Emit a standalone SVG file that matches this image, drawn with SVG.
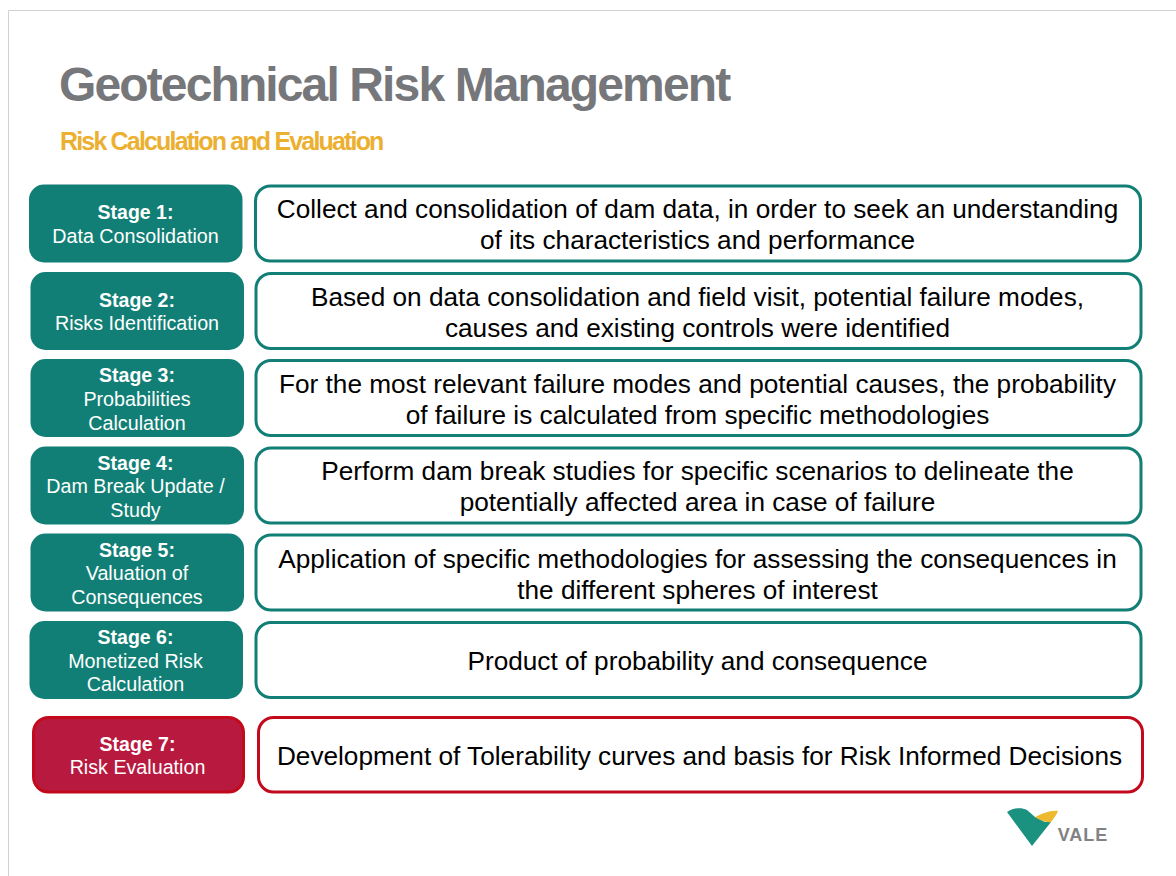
<svg xmlns="http://www.w3.org/2000/svg" width="1176" height="876" viewBox="0 0 1176 876">
<style>
text{font-family:"Liberation Sans",Arial,sans-serif;text-anchor:middle}
.st{fill:#127f76}
.red{fill:#b8193f;stroke:#c20a1c;stroke-width:3}
.bt{fill:#fff;stroke:#127f76;stroke-width:3}
.br{fill:#fff;stroke:#c20a1c;stroke-width:3}
.h{font-size:19.5px;font-weight:bold;fill:#fff}
.l{font-size:19.7px;fill:#fff}
.d{font-size:26.2px;fill:#000}
</style>
<rect width="1176" height="876" fill="#fff"/>
<path d="M1176 10.500H8.500V876" fill="none" stroke="#d2d2d2" stroke-width="1"/>
<text id="title" x="59" y="101" style="text-anchor:start;font-size:48px;font-weight:bold;fill:#76777a;letter-spacing:-1.880px">Geotechnical Risk Management</text>
<text id="subtitle" x="60" y="150" style="text-anchor:start;font-size:25px;font-weight:bold;fill:#ecb031;letter-spacing:-1.830px">Risk Calculation and Evaluation</text>
<g id="connectors"/>
<g id="stage1"><rect class="st" x="29" y="184.500" width="213.500" height="78" rx="15"/><text class="h" x="135.500" y="219">Stage 1:</text><text class="l" x="135.500" y="242.500">Data Consolidation</text></g>
<g id="desc1"><rect class="bt" x="255.500" y="186" width="885" height="75" rx="15"/><text class="d" x="697.500" y="218">Collect and consolidation of dam data, in order to seek an understanding</text><text class="d" x="697.500" y="249">of its characteristics and performance</text></g>
<g id="stage2"><rect class="st" x="30.500" y="272" width="213.500" height="78" rx="15"/><text class="h" x="137" y="307">Stage 2:</text><text class="l" x="137" y="330">Risks Identification</text></g>
<g id="desc2"><rect class="bt" x="256" y="273.500" width="885" height="75" rx="15"/><text class="d" x="697.500" y="306">Based on data consolidation and field visit, potential failure modes,</text><text class="d" x="697.500" y="337">causes and existing controls were identified</text></g>
<g id="stage3"><rect class="st" x="30.500" y="359" width="213.500" height="78" rx="15"/><text class="h" x="137" y="382">Stage 3:</text><text class="l" x="137" y="406">Probabilities</text><text class="l" x="137" y="429.500">Calculation</text></g>
<g id="desc3"><rect class="bt" x="256" y="360.500" width="885" height="75" rx="15"/><text class="d" x="697.500" y="392.500">For the most relevant failure modes and potential causes, the probability</text><text class="d" x="697.500" y="423.500">of failure is calculated from specific methodologies</text></g>
<g id="stage4"><rect class="st" x="30.500" y="446.500" width="213.500" height="78" rx="15"/><text class="h" x="135.500" y="469.500">Stage 4:</text><text class="l" x="135.500" y="493">Dam Break Update /</text><text class="l" x="135.500" y="517">Study</text></g>
<g id="desc4"><rect class="bt" x="256" y="448" width="885" height="75" rx="15"/><text class="d" x="697.500" y="480">Perform dam break studies for specific scenarios to delineate the</text><text class="d" x="697.500" y="511">potentially affected area in case of failure</text></g>
<g id="stage5"><rect class="st" x="30.500" y="533.500" width="213.500" height="78" rx="15"/><text class="h" x="137" y="556.500">Stage 5:</text><text class="l" x="137" y="580">Valuation of</text><text class="l" x="137" y="604">Consequences</text></g>
<g id="desc5"><rect class="bt" x="256" y="535" width="885" height="75" rx="15"/><text class="d" x="697.500" y="567.500">Application of specific methodologies for assessing the consequences in</text><text class="d" x="697.500" y="598.500">the different spheres of interest</text></g>
<g id="stage6"><rect class="st" x="29.500" y="621" width="213.500" height="78" rx="15"/><text class="h" x="135.500" y="644">Stage 6:</text><text class="l" x="135.500" y="667.500">Monetized Risk</text><text class="l" x="135.500" y="691">Calculation</text></g>
<g id="desc6"><rect class="bt" x="256" y="622.500" width="885" height="75" rx="15"/><text class="d" x="697.500" y="670">Product of probability and consequence</text></g>
<g id="stage7"><rect class="red" x="33.500" y="717.500" width="210" height="74.500" rx="15"/><text class="h" x="137.500" y="751">Stage 7:</text><text class="l" x="137.500" y="774">Risk Evaluation</text></g>
<g id="desc7"><rect class="br" x="258.500" y="717.500" width="884" height="74.500" rx="15"/><text class="d" x="699.500" y="765">Development of Tolerability curves and basis for Risk Informed Decisions</text></g>
<g id="logo">
<path d="M1007 812C1013 808 1021 807 1027 810L1035 817L1045 822L1051 822L1032 846Z" fill="#1b9180"/>
<path d="M1035 817C1042 814 1050 810 1058 811C1056 816 1053 819 1051 822C1046 823 1040 820 1035 817Z" fill="#edb92e"/>
<text x="1083" y="841" style="font-size:18px;font-weight:bold;fill:#808285;letter-spacing:1px">VALE</text>
</g>
</svg>
